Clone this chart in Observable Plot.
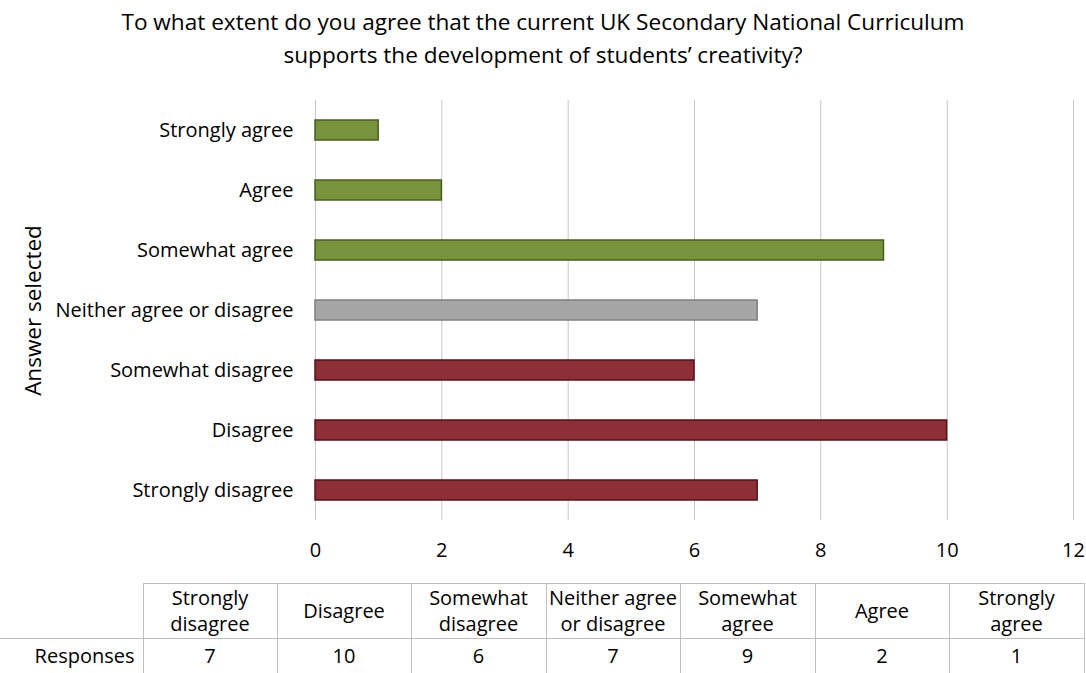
<!DOCTYPE html>
<html>
<head>
<meta charset="utf-8">
<script src="https://cdn.jsdelivr.net/npm/d3@7"></script>
<script src="https://cdn.jsdelivr.net/npm/@observablehq/plot@0.6"></script>
<style>
  body { margin: 0; width: 1086px; height: 673px; position: relative; overflow: hidden; background: #fff; font-family: "Open Sans", sans-serif; color: #000; }
  #title { position: absolute; top: 5px; left: 0; width: 1086px; text-align: center; font-size: 22.6px; line-height: 33px; }
  #chart { position: absolute; top: 85px; left: 0; }
  table { position: absolute; top: 583px; left: 0; border-collapse: collapse; table-layout: fixed; width: 1084px; font-size: 20px; }
  td { border: 1px solid #bfbfbf; text-align: center; padding: 0; line-height: 26px; }
  tr.head td { height: 54px; }
  tr.vals td { height: 34px; }
  td.corner { border-top: none; border-left: none; }
  td.rowhead { text-align: right; padding-right: 8px; border-left: none; }
</style>
</head>
<body>
<div id="title">To what extent do you agree that the current UK Secondary National Curriculum<br>supports the development of students’ creativity?</div>
<div id="chart"></div>
<table id="tbl"></table>
<script>
const categories = ["Strongly disagree", "Disagree", "Somewhat disagree", "Neither agree or disagree", "Somewhat agree", "Agree", "Strongly agree"];
const responses = [7, 10, 6, 7, 9, 2, 1];
const groups = ["disagree", "disagree", "disagree", "neutral", "agree", "agree", "agree"];
const tableHeaders = ["Strongly<br>disagree", "Disagree", "Somewhat<br>disagree", "Neither agree<br>or disagree", "Somewhat<br>agree", "Agree", "Strongly<br>agree"];
const xTicks = [0, 2, 4, 6, 8, 10, 12];
const fillColors = {agree: "#77933c", neutral: "#a6a6a6", disagree: "#8e2f38"};
const strokeColors = {agree: "#4a5e22", neutral: "#7f7f7f", disagree: "#5a1118"};

const data = categories.map((c, i) => ({category: c, responses: responses[i], group: groups[i]}));

const chart = Plot.plot({
  width: 1086,
  height: 480,
  marginLeft: 315,
  marginRight: 13,
  marginTop: 15,
  marginBottom: 45,
  style: {fontFamily: "'Open Sans', sans-serif", fontSize: "20px", color: "#000", background: "#fff"},
  x: {domain: [0, 12]},
  y: {domain: categories.slice().reverse(), paddingInner: 0.667, paddingOuter: 0.333},
  color: {type: "identity"},
  marks: [
    Plot.ruleX(xTicks, {stroke: "#c6c6c6", strokeWidth: 1}),
    Plot.barX(data, {y: "category", x: "responses", fill: d => fillColors[d.group], stroke: d => strokeColors[d.group], strokeWidth: 1.5}),
    Plot.axisX({ticks: xTicks, tickSize: 0, tickPadding: 22, label: null, fontSize: "20px"}),
    Plot.axisY({tickSize: 0, tickPadding: 22, label: null, fontSize: "20px"}),
    Plot.text(["Answer selected"], {frameAnchor: "left", textAnchor: "middle", dx: -282, rotate: -90, fontSize: 22.5, text: d => d})
  ]
});
document.getElementById("chart").appendChild(chart);

const tbl = document.getElementById("tbl");
const colW = [143, 134, 134, 135, 134, 135, 134, 135];
const cg = document.createElement("colgroup");
colW.forEach(w => { const c = document.createElement("col"); c.style.width = w + "px"; cg.appendChild(c); });
tbl.appendChild(cg);
const hr = document.createElement("tr"); hr.className = "head";
hr.innerHTML = `<td class="corner"></td>` + tableHeaders.map(h => `<td>${h}</td>`).join("");
tbl.appendChild(hr);
const vr = document.createElement("tr"); vr.className = "vals";
vr.innerHTML = `<td class="rowhead">Responses</td>` + responses.map(v => `<td>${v}</td>`).join("");
tbl.appendChild(vr);
</script>
</body>
</html>
